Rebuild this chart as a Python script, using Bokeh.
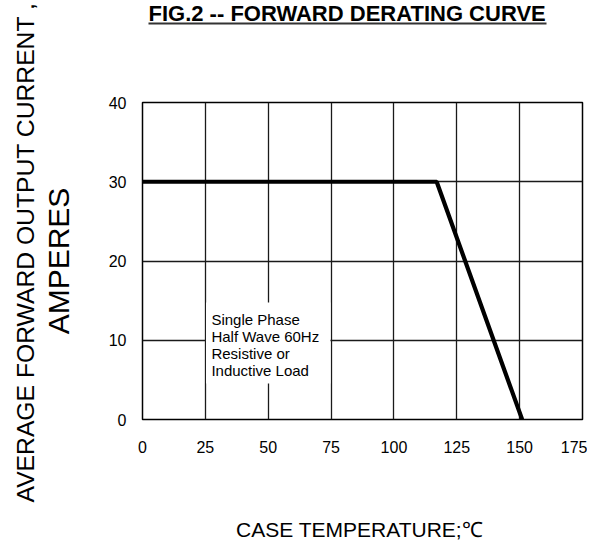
from bokeh.plotting import figure
from bokeh.models import Label, BoxAnnotation, FixedTicker, Range1d, Title, LinearAxis
from bokeh.embed import file_html
from bokeh.resources import INLINE

# data
temp = [0, 117, 151]
current = [30, 30, 0]
x_ticks = [0, 25, 50, 75, 100, 125, 150, 175]
y_ticks = [0, 10, 20, 30, 40]

title_text = "FIG.2 -- FORWARD DERATING CURVE"
ylabel1 = "AVERAGE FORWARD OUTPUT CURRENT ,"
ylabel2 = "AMPERES"
xlabel = "CASE  TEMPERATURE;\u2103"
note = "Single Phase\n Half Wave 60Hz\nResistive or\nInductive Load"

FONT = "Liberation Sans"

p = figure(width=587, height=543, output_backend="svg", toolbar_location=None,
           title=None,
           x_range=Range1d(0, 175), y_range=Range1d(0, 40),
           min_border_left=142, min_border_right=5, min_border_top=102,
           min_border_bottom=124)

p.outline_line_color = "black"
p.outline_line_width = 1.5
p.background_fill_color = "white"
p.border_fill_color = "white"

for ax in (p.xaxis[0], p.yaxis[0]):
    ax.axis_line_color = None
    ax.major_tick_line_color = None
    ax.minor_tick_line_color = None
    ax.major_label_text_font = FONT
    ax.major_label_text_font_size = "16px"
    ax.major_label_text_color = "black"
    ax.axis_label_text_font = FONT
    ax.axis_label_text_font_style = "normal"
    ax.axis_label_text_color = "black"

p.xaxis.ticker = FixedTicker(ticks=x_ticks)
p.yaxis.ticker = FixedTicker(ticks=y_ticks)
p.xaxis.major_label_standoff = 15
p.yaxis.major_label_standoff = 10

p.xaxis.axis_label = xlabel
p.xaxis.axis_label_text_font_size = "21px"
p.xaxis.axis_label_standoff = 62

# second line of the y title, carried by the y axis
p.yaxis.axis_label = ylabel2
p.yaxis.axis_label_text_font_size = "30px"
p.yaxis.axis_label_standoff = 31

for g in (p.xgrid[0], p.ygrid[0]):
    g.grid_line_color = "#1a1a1a"
    g.grid_line_width = 1.3
p.xgrid.ticker = FixedTicker(ticks=x_ticks)
p.ygrid.ticker = FixedTicker(ticks=y_ticks)

# white box behind note
p.add_layout(BoxAnnotation(left=25.25, right=74.75, bottom=4.55, top=14.75,
                           fill_color="white", fill_alpha=1.0, line_color=None,
                           level="underlay"))

p.line(temp, current, line_color="black", line_width=4.2)

p.add_layout(Label(x=27.4, y=13.75, text=note, text_font=FONT, text_font_size="15px",
                   text_color="black", text_baseline="top", text_align="left",
                   text_line_height=1.0))

# first line of the y title
p.add_layout(Title(text=ylabel1, align="left", offset=-83, text_font=FONT,
                   text_font_size="24.7px", text_font_style="normal", text_color="black",
                   standoff=0), "left")

# spacer between frame and title
p.add_layout(Title(text=" ", text_font_size="1px", standoff=76), "above")

# underline of the title (axis line limited by bounds)
underline = LinearAxis(ticker=FixedTicker(ticks=[]), bounds=(2.4, 160.5),
                       axis_line_color="#333333", axis_line_width=2,
                       major_tick_in=0, major_tick_out=0, minor_tick_in=0, minor_tick_out=0,
                       major_label_standoff=0, major_label_text_font_size="0px")
p.add_layout(underline, "above")

# title
p.add_layout(Title(text=title_text, align="left", offset=6, standoff=-8,
                   vertical_align="top", text_font=FONT, text_font_size="22px",
                   text_font_style="bold", text_color="black"), "above")

open("out.html", "w").write(file_html(p, INLINE))
